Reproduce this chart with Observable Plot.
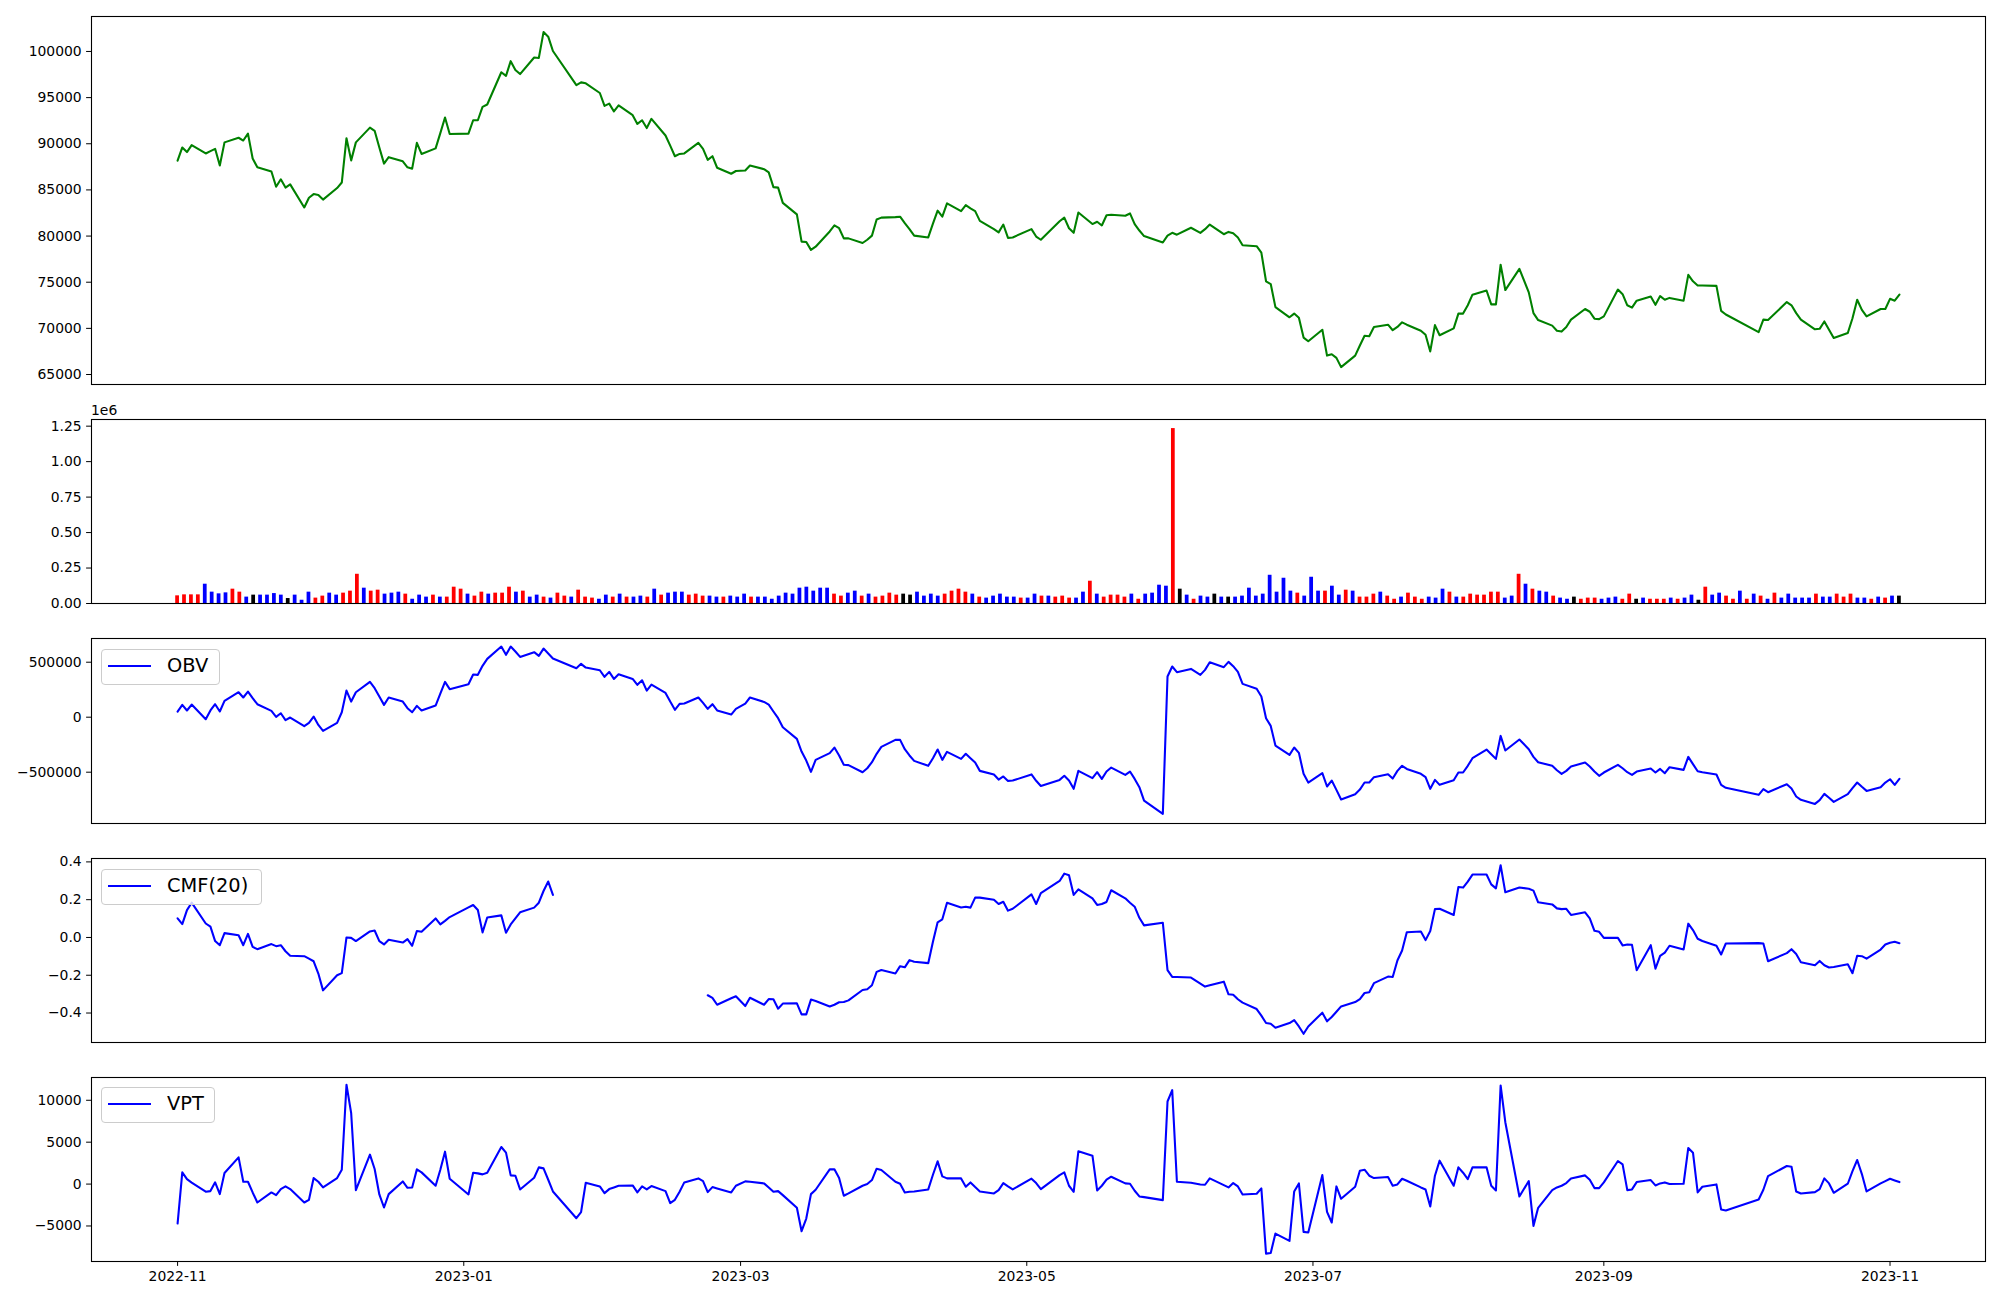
<!DOCTYPE html>
<html>
<head>
<meta charset="utf-8">
<script src="https://cdn.jsdelivr.net/npm/d3@7"></script>
<script src="https://cdn.jsdelivr.net/npm/@observablehq/plot@0.6"></script>
<style>
  html, body { margin: 0; padding: 0; background: #ffffff; }
  #chart { position: relative; width: 2000px; height: 1300px; background: #ffffff; font-family: "DejaVu Sans", sans-serif; overflow: hidden; }
  #chart svg { position: absolute; left: 0; overflow: visible; }
  .legend { position: absolute; left: 101px; height: 36px; border: 1px solid #cccccc; border-radius: 4px;
            background: rgba(255,255,255,0.8); box-sizing: border-box; font-size: 19.4px; color: #000; }
  .legend .swatch { position: absolute; left: 6px; top: 15px; width: 43px; height: 2px; background: #0000ff; }
  .legend .label { position: absolute; left: 65px; top: 4px; line-height: 24px; white-space: nowrap; }
  .offset { position: absolute; left: 91px; top: 402px; font-size: 13.9px; line-height: 16px; color: #000; }
</style>
</head>
<body>
<div id="chart"></div>
<script>
// ---------------- data ----------------
const tradingDays = [
"2022-11-01","2022-11-02","2022-11-03","2022-11-04","2022-11-07","2022-11-08","2022-11-09","2022-11-10","2022-11-11","2022-11-14","2022-11-15","2022-11-16","2022-11-17","2022-11-18","2022-11-21","2022-11-22","2022-11-23","2022-11-24","2022-11-25","2022-11-28","2022-11-29","2022-11-30",
"2022-12-01","2022-12-02","2022-12-05","2022-12-06","2022-12-07","2022-12-08","2022-12-09","2022-12-12","2022-12-13","2022-12-14","2022-12-15","2022-12-16","2022-12-19","2022-12-20","2022-12-21","2022-12-22","2022-12-23","2022-12-26","2022-12-27","2022-12-28","2022-12-29",
"2023-01-02","2023-01-03","2023-01-04","2023-01-05","2023-01-06","2023-01-09","2023-01-10","2023-01-11","2023-01-12","2023-01-13","2023-01-16","2023-01-17","2023-01-18","2023-01-19","2023-01-20","2023-01-25","2023-01-26","2023-01-27","2023-01-30","2023-01-31",
"2023-02-01","2023-02-02","2023-02-03","2023-02-06","2023-02-07","2023-02-08","2023-02-09","2023-02-10","2023-02-13","2023-02-14","2023-02-15","2023-02-16","2023-02-17","2023-02-20","2023-02-21","2023-02-22","2023-02-23","2023-02-24","2023-02-27","2023-02-28",
"2023-03-02","2023-03-03","2023-03-06","2023-03-07","2023-03-08","2023-03-09","2023-03-10","2023-03-13","2023-03-14","2023-03-15","2023-03-16","2023-03-17","2023-03-20","2023-03-21","2023-03-22","2023-03-23","2023-03-24","2023-03-27","2023-03-28","2023-03-29","2023-03-30","2023-03-31",
"2023-04-03","2023-04-04","2023-04-05","2023-04-06","2023-04-07","2023-04-10","2023-04-11","2023-04-12","2023-04-13","2023-04-14","2023-04-17","2023-04-18","2023-04-19","2023-04-20","2023-04-21","2023-04-24","2023-04-25","2023-04-26","2023-04-27","2023-04-28",
"2023-05-02","2023-05-03","2023-05-04","2023-05-08","2023-05-09","2023-05-10","2023-05-11","2023-05-12","2023-05-15","2023-05-16","2023-05-17","2023-05-18","2023-05-19","2023-05-22","2023-05-23","2023-05-24","2023-05-25","2023-05-26","2023-05-30","2023-05-31",
"2023-06-01","2023-06-02","2023-06-05","2023-06-07","2023-06-08","2023-06-09","2023-06-12","2023-06-13","2023-06-14","2023-06-15","2023-06-16","2023-06-19","2023-06-20","2023-06-21","2023-06-22","2023-06-23","2023-06-26","2023-06-27","2023-06-28","2023-06-29","2023-06-30",
"2023-07-03","2023-07-04","2023-07-05","2023-07-06","2023-07-07","2023-07-10","2023-07-11","2023-07-12","2023-07-13","2023-07-14","2023-07-17","2023-07-18","2023-07-19","2023-07-20","2023-07-21","2023-07-24","2023-07-25","2023-07-26","2023-07-27","2023-07-28","2023-07-31",
"2023-08-01","2023-08-02","2023-08-03","2023-08-04","2023-08-07","2023-08-08","2023-08-09","2023-08-10","2023-08-11","2023-08-14","2023-08-16","2023-08-17","2023-08-18","2023-08-21","2023-08-22","2023-08-23","2023-08-24","2023-08-25","2023-08-28","2023-08-29","2023-08-30","2023-08-31",
"2023-09-01","2023-09-04","2023-09-05","2023-09-06","2023-09-07","2023-09-08","2023-09-11","2023-09-12","2023-09-13","2023-09-14","2023-09-15","2023-09-18","2023-09-19","2023-09-20","2023-09-21","2023-09-22","2023-09-25","2023-09-26","2023-09-27",
"2023-10-04","2023-10-05","2023-10-06","2023-10-10","2023-10-11","2023-10-12","2023-10-13","2023-10-16","2023-10-17","2023-10-18","2023-10-19","2023-10-20","2023-10-23","2023-10-24","2023-10-25","2023-10-26","2023-10-27","2023-10-30","2023-10-31",
"2023-11-01","2023-11-02","2023-11-03"
];

const price = [
88170,89600,89100,89850,88950,89200,89450,87650,90150,90650,
90350,91100,88400,87450,87000,85350,86150,85250,85600,83100,
84150,84550,84450,83950,85200,85800,90600,88200,90150,91750,
91400,89600,87850,88550,88100,87450,87300,90100,88900,89500,
91150,92850,91050,91100,92550,92550,94000,94250,97750,97350,
98950,98000,97550,99350,99300,102100,101600,100050,96350,96650,
96550,95500,94100,94350,93500,94150,93100,92150,92550,91700,
92700,90900,89800,88650,88900,88950,90100,89450,88250,88650,
87400,86750,87050,87100,87650,87250,86900,85300,85250,83600,
82350,79400,79350,78500,78850,80500,81150,80850,79750,79750,
79250,79600,80050,81800,82000,82050,82100,81400,80750,80050,
79850,81350,82750,82100,83550,82700,83350,83000,82700,81650,
80750,80400,81250,79800,79850,80750,79950,79600,81600,82000,
80850,80350,82550,81300,81550,81150,82250,82300,82200,82450,
81300,80600,80000,79300,80050,80350,80150,80900,80350,80750,
81250,80200,80450,80300,79850,79000,78900,78200,75100,74800,
72300,71200,71600,71150,69000,68600,69850,67050,67200,66800,
65800,67050,68150,69200,69150,70150,70400,69800,70150,70650,
70400,69750,69300,67500,70350,69250,70000,71600,71600,72500,
73650,74100,72600,72600,76900,74150,76450,73900,71650,70900,
70300,69750,69650,70150,70950,72100,71800,71050,71000,71300,
74200,73700,72500,72250,73000,73450,72550,73500,73100,73300,
73000,75800,75100,74650,74650,74600,71900,71500,69600,70950,
70900,72850,72500,71650,70950,69900,69950,70750,69850,68950,
69500,71100,73100,72000,71300,72100,72100,73200,73000,73650
];

const volume = [
54000,61000,61000,61000,136000,80000,68000,75000,101000,80000,
45000,59000,59000,59000,70000,59000,35000,59000,23000,80000,
38000,52000,73000,59000,73000,87000,206000,108000,87000,94000,
66000,73000,80000,66000,30000,59000,45000,59000,45000,45000,
115000,101000,66000,52000,80000,66000,73000,73000,115000,80000,
87000,45000,59000,45000,38000,73000,52000,45000,94000,45000,
38000,30000,59000,45000,66000,45000,45000,52000,45000,101000,
59000,73000,80000,80000,59000,66000,52000,52000,45000,45000,
52000,45000,66000,45000,45000,45000,30000,52000,73000,66000,
108000,115000,87000,108000,108000,66000,52000,73000,87000,52000,
66000,45000,52000,73000,59000,66000,59000,80000,52000,66000,
52000,66000,87000,101000,80000,66000,45000,38000,52000,66000,
45000,45000,38000,38000,66000,52000,52000,45000,52000,38000,
38000,80000,157000,66000,45000,59000,59000,45000,66000,30000,
66000,73000,129000,122000,1233000,101000,59000,30000,52000,45000,
66000,45000,45000,45000,52000,108000,52000,66000,199000,80000,
178000,87000,73000,52000,185000,87000,87000,122000,59000,94000,
87000,45000,45000,66000,80000,52000,30000,45000,73000,45000,
30000,45000,38000,101000,80000,45000,45000,66000,59000,59000,
80000,80000,38000,52000,206000,136000,101000,87000,80000,52000,
38000,30000,45000,30000,38000,38000,30000,38000,45000,30000,
66000,30000,38000,30000,30000,30000,38000,30000,38000,59000,
23000,115000,59000,73000,52000,30000,87000,30000,66000,52000,
30000,73000,38000,66000,38000,38000,38000,66000,45000,45000,
66000,45000,66000,38000,38000,30000,45000,38000,52000,52000
];

// r = up (red), b = down (blue), k = unchanged (black)
const volumeDir = (
"rrrrbbbbrr" + "bkbbbbkbbb" + "rrbbrrrbrr" + "bbbrbbbrbr" + "rrbrrbrrrb" +
"rbbrbrrbrr" + "rbbrbrbbrb" + "rbbbrrrbbr" + "bbbrbbbbbb" + "bbbbbrrbbr" +
"brrrrkkbbb" + "brrrrbrbbb" + "bbrbbrbrrr" + "bbrbrrrrbr" + "bbbbrkbrbb" +
"kbkbbbbbbb" + "bbrbbbrbbr" + "brrrbrrbrr" + "rbbbrbrrrr" + "rrbbrbrbbr" +
"bbkrrrbbbr" + "rkbrrrbrbb" + "krbbrrbrbr" + "brbbbbbrbb" + "rrrbbrbrbk"
).split("");

const obv = [
51500,112000,61000,115000,-18000,61000,118000,52000,148000,227000,
179000,233000,173000,118000,58000,3000,36000,-27000,-3000,-82000,
-52000,6000,-70000,-124000,-52000,45000,242000,142000,227000,321000,
264000,188000,112000,179000,142000,82000,45000,103000,61000,106000,
215000,321000,255000,300000,388000,385000,467000,530000,642000,567000,
642000,597000,548000,591000,558000,624000,579000,533000,445000,485000,
451000,427000,367000,412000,348000,391000,348000,294000,336000,242000,
297000,221000,142000,67000,121000,124000,179000,130000,76000,118000,
61000,24000,76000,124000,179000,139000,115000,52000,-9000,-91000,
-197000,-312000,-394000,-497000,-388000,-327000,-276000,-348000,-433000,-436000,
-500000,-464000,-409000,-333000,-270000,-206000,-206000,-291000,-348000,-397000,
-442000,-373000,-294000,-388000,-315000,-379000,-333000,-373000,-412000,-488000,
-521000,-567000,-539000,-579000,-576000,-520000,-578000,-625000,-570000,-533000,
-576000,-651000,-488000,-554000,-500000,-561000,-494000,-458000,-524000,-494000,
-561000,-636000,-758000,-879000,370000,461000,409000,439000,385000,430000,
500000,455000,503000,464000,412000,303000,258000,188000,-9000,-79000,
-258000,-342000,-276000,-324000,-515000,-594000,-509000,-630000,-576000,-661000,
-748000,-700000,-658000,-594000,-594000,-545000,-518000,-558000,-488000,-442000,
-470000,-515000,-545000,-651000,-570000,-615000,-573000,-503000,-503000,-442000,
-373000,-294000,-336000,-379000,-170000,-303000,-203000,-291000,-361000,-409000,
-442000,-482000,-515000,-488000,-448000,-412000,-448000,-494000,-533000,-503000,
-433000,-464000,-500000,-524000,-494000,-467000,-503000,-470000,-509000,-455000,
-479000,-361000,-427000,-491000,-500000,-521000,-615000,-642000,-706000,-654000,
-682000,-609000,-648000,-721000,-751000,-788000,-754000,-697000,-733000,-770000,
-700000,-645000,-594000,-633000,-670000,-636000,-594000,-564000,-615000,-561000
];

const cmf = [
0.101,0.071,0.145,0.184,0.074,0.057,-0.019,-0.041,0.023,0.012,
-0.041,0.019,-0.050,-0.062,-0.035,-0.046,-0.041,-0.073,-0.097,-0.099,
-0.112,-0.126,-0.191,-0.280,-0.200,-0.189,0.000,-0.002,-0.019,0.032,
0.037,-0.019,-0.037,-0.012,-0.027,-0.009,-0.044,0.034,0.030,0.101,
0.069,0.088,0.108,0.159,0.172,0.145,0.027,0.106,0.117,0.025,
0.069,0.101,0.133,0.158,0.184,0.246,0.296,0.225,null,null,
null,null,null,null,null,null,null,null,null,null,
null,null,null,null,null,null,null,null,-0.306,-0.320,
-0.356,-0.322,-0.311,-0.363,-0.319,-0.356,-0.326,-0.327,-0.377,-0.350,
-0.349,-0.407,-0.407,-0.329,-0.336,-0.365,-0.356,-0.343,-0.342,-0.333,
-0.278,-0.274,-0.253,-0.182,-0.172,-0.191,-0.152,-0.158,-0.120,-0.129,
-0.136,-0.023,0.080,0.096,0.184,0.159,0.163,0.158,0.211,0.211,
0.200,0.177,0.189,0.142,0.152,0.228,0.177,0.235,0.299,0.338,
0.329,0.225,0.255,0.207,0.172,0.177,0.188,0.250,0.207,0.184,
0.163,0.104,0.064,0.078,-0.173,-0.209,-0.209,-0.212,-0.244,-0.260,
-0.253,-0.234,-0.301,-0.303,-0.327,-0.345,-0.379,-0.414,-0.453,-0.457,
-0.478,-0.453,-0.437,-0.471,-0.510,-0.471,-0.398,-0.444,-0.421,-0.393,
-0.365,-0.342,-0.326,-0.294,-0.290,-0.242,-0.207,-0.209,-0.122,-0.069,
0.028,0.032,-0.014,0.034,0.150,0.152,0.119,0.267,0.264,0.296,
0.333,0.333,0.281,0.260,0.382,0.239,0.264,0.258,0.248,0.186,
0.175,0.154,0.150,0.152,0.119,0.133,0.101,0.035,0.030,-0.002,
-0.002,-0.042,-0.037,-0.039,-0.173,-0.041,-0.165,-0.097,-0.080,-0.044,
-0.064,0.073,0.039,-0.007,-0.019,-0.044,-0.090,-0.032,-0.030,-0.032,
-0.126,-0.083,-0.062,-0.088,-0.131,-0.147,-0.124,-0.147,-0.159,-0.156,
-0.142,-0.189,-0.097,-0.099,-0.112,-0.064,-0.037,-0.028,-0.023,-0.030
];

const vpt = [
-4708,1397,599,172,-914,-838,207,-1197,1317,3192,
279,279,-998,-2195,-998,-1317,-599,-279,-599,-2195,
-1875,718,279,-399,718,1716,11850,8459,-718,3511,
1796,-1237,-2793,-1197,319,-439,-399,1756,1397,-200,
1716,3870,638,-1237,1357,1277,1157,1357,4429,3751,
1037,998,-638,758,1995,1875,519,-878,-4070,-3352,
160,-279,-1077,-599,-399,-200,-160,-998,-279,-638,
-239,-838,-2274,-1875,-918,200,678,359,-958,-359,
-519,-998,-200,319,279,80,-399,-918,-838,-1317,
-2833,-5626,-4110,-1197,-678,1756,1756,718,-1397,-1117,
-200,0,479,1835,1676,279,40,-998,-918,-878,
-638,1117,2713,918,678,678,-319,200,-359,-878,
-1117,-718,120,-279,-638,650,120,-599,1077,1397,
-200,-918,3910,3392,-758,-200,519,878,80,40,
-798,-1476,-1556,-1915,9855,11212,279,160,-40,-80,
678,-120,-399,120,-279,-1237,-1157,-519,-8299,-8219,
-5905,-6783,-878,80,-5706,-5786,1077,-3312,-4589,-279,
-1756,-319,1596,1716,998,718,838,-200,-40,638,
399,-399,-638,-2673,998,2793,-200,1995,1357,599,
1995,1995,-200,-758,11771,7382,-1476,359,-4988,-2833,
-718,-399,-200,120,678,1037,519,-479,-479,200,
2753,2354,-718,-638,239,479,-160,80,200,0,
40,4309,3751,-998,-319,-40,-3032,-3152,-1835,-678,
958,2155,2075,-878,-1117,-958,-599,678,80,-1037,
40,1556,2873,1197,-878,80,359,638,439,239
];

const priceTicks = [65000, 70000, 75000, 80000, 85000, 90000, 95000, 100000];
const volumeTicks = [0, 250000, 500000, 750000, 1000000, 1250000];
const obvTicks = [-500000, 0, 500000];
const cmfTicks = [-0.4, -0.2, 0, 0.2, 0.4];
const vptTicks = [-5000, 0, 5000, 10000];
const xTickDates = ["2022-11-01", "2023-01-01", "2023-03-01", "2023-05-01", "2023-07-01", "2023-09-01", "2023-11-01"];
const seriesNames = ["OBV", "CMF(20)", "VPT"];
const volumeOffsetLabel = "1e6";

// ---------------- build ----------------
const parse = d3.utcParse("%Y-%m-%d");
const dates = tradingDays.map(parse);
const t0 = dates[0], tN = dates[dates.length - 1];
const span = tN - t0;
const xDomain = [new Date(+t0 - 0.05 * span), new Date(+tN + 0.05 * span)];
const DAY = 864e5;
const barStep = span / (dates.length - 1);

const rows = dates.map((date, i) => {
  const slot = new Date(+t0 + i * barStep);
  return {
    date, price: price[i], volume: volume[i], dir: volumeDir[i],
    obv: obv[i], cmf: cmf[i], vpt: vpt[i],
    x1: new Date(+slot - 0.4 * DAY), x2: new Date(+slot + 0.4 * DAY)
  };
});

const container = document.getElementById("chart");
const fmtInt = d3.format("d");

function panel({top, height, marginTop, marginBottom, yDomain, yTicks, yFormat, marks, xAxis = false}) {
  const svg = Plot.plot({
    width: 2000, height,
    marginLeft: 91, marginRight: 15, marginTop, marginBottom,
    style: {fontFamily: '"DejaVu Sans", sans-serif', fontSize: "13.9px", color: "#000", background: "transparent", overflow: "visible"},
    x: xAxis ? {type: "utc", domain: xDomain} : {type: "utc", domain: xDomain, axis: null},
    y: {domain: yDomain},
    marks: [
      ...marks,
      Plot.axisY({ticks: yTicks, tickFormat: yFormat, tickSize: 4.9, tickPadding: 4.9, label: null, stroke: "#000", fill: "#000"}),
      ...(xAxis ? [Plot.axisX({ticks: xTickDates.map(parse), tickFormat: d3.utcFormat("%Y-%m"), tickSize: 4.9, tickPadding: 4.9, label: null, stroke: "#000", fill: "#000"})] : []),
      Plot.frame({stroke: "#000", strokeWidth: 1.1})
    ]
  });
  svg.style.top = top + "px";
  container.append(svg);
}

// Panel 1: price
panel({
  top: 0, height: 395, marginTop: 16, marginBottom: 11,
  yDomain: [63918, 103788], yTicks: priceTicks, yFormat: fmtInt,
  marks: [Plot.line(rows, {x: "date", y: "price", stroke: "#008000", strokeWidth: 2.08})]
});

// Panel 2: volume
const dirColor = {r: "#ff0000", b: "#0000ff", k: "#000000"};
panel({
  top: 395, height: 224, marginTop: 24, marginBottom: 16,
  yDomain: [0, 1297000], yTicks: volumeTicks, yFormat: d => (d / 1e6).toFixed(2),
  marks: Object.keys(dirColor).map(k =>
    Plot.rectY(rows.filter(r => r.dir === k), {x1: "x1", x2: "x2", y: "volume", fill: dirColor[k]})
  )
});

// Panel 3: OBV
panel({
  top: 620, height: 220, marginTop: 18, marginBottom: 17,
  yDomain: [-966400, 715500], yTicks: obvTicks, yFormat: fmtInt,
  marks: [Plot.line(rows, {x: "date", y: "obv", stroke: "#0000ff", strokeWidth: 2.08})]
});

// Panel 4: CMF(20)
panel({
  top: 840, height: 220, marginTop: 18, marginBottom: 18,
  yDomain: [-0.556, 0.418], yTicks: cmfTicks, yFormat: d3.format(".1f"),
  marks: [Plot.line(rows, {x: "date", y: "cmf", stroke: "#0000ff", strokeWidth: 2.08})]
});

// Panel 5: VPT
panel({
  top: 1060, height: 240, marginTop: 17, marginBottom: 39,
  yDomain: [-9238, 12718], yTicks: vptTicks, yFormat: fmtInt, xAxis: true,
  marks: [Plot.line(rows, {x: "date", y: "vpt", stroke: "#0000ff", strokeWidth: 2.08})]
});

// offset label for the volume axis
const off = document.createElement("div");
off.className = "offset";
off.textContent = volumeOffsetLabel;
container.append(off);

// legends
const legendBoxes = [
  {name: seriesNames[0], top: 649, width: 119},
  {name: seriesNames[1], top: 869, width: 161},
  {name: seriesNames[2], top: 1087, width: 114}
];
for (const lb of legendBoxes) {
  const box = document.createElement("div");
  box.className = "legend";
  box.style.top = lb.top + "px";
  box.style.width = lb.width + "px";
  const sw = document.createElement("div"); sw.className = "swatch";
  const lab = document.createElement("div"); lab.className = "label"; lab.textContent = lb.name;
  box.append(sw, lab);
  container.append(box);
}
</script>
</body>
</html>
